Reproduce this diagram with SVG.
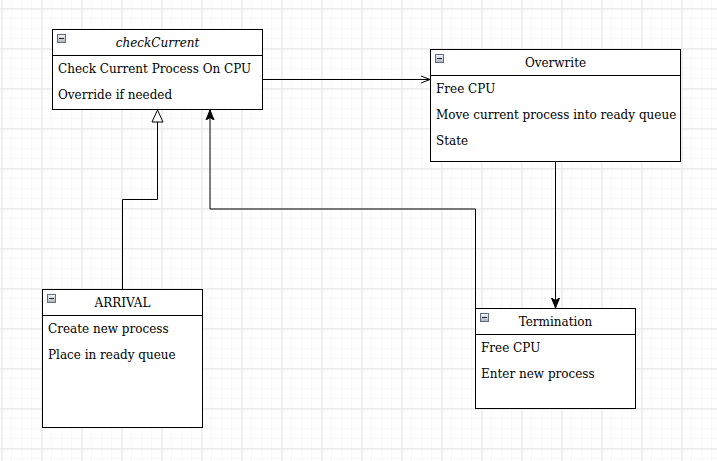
<svg xmlns="http://www.w3.org/2000/svg" width="717" height="461" viewBox="0 0 717 461">
<defs>
<pattern id="minor" x="2" y="9" width="10" height="10" patternUnits="userSpaceOnUse">
<path d="M10 0V10M0 10H10" fill="none" stroke="#f0f0f0" stroke-width="1"/>
</pattern>
<pattern id="major" x="1.5" y="8.5" width="40" height="40" patternUnits="userSpaceOnUse">
<path d="M0.5 0V40M0 0.5H40" fill="none" stroke="#e2e2e2" stroke-width="1"/>
</pattern>
<marker id="open" viewBox="0 0 10 10" refX="10" refY="5" markerWidth="10" markerHeight="10" markerUnits="userSpaceOnUse" orient="auto">
<path d="M1 1.5L10 5L1 8.5" fill="none" stroke="#000" stroke-width="1"/>
</marker>
<marker id="filled" viewBox="0 0 10 10" refX="10" refY="5" markerWidth="10" markerHeight="10" markerUnits="userSpaceOnUse" orient="auto">
<path d="M0 1L10 5L0 9L2.5 5Z" fill="#000" stroke="#000" stroke-width="1"/>
</marker>
<marker id="tri" viewBox="0 0 14 14" refX="13" refY="7" markerWidth="14" markerHeight="14" markerUnits="userSpaceOnUse" orient="auto">
<path d="M1 1.5L13 7L1 12.5Z" fill="#fff" stroke="#000" stroke-width="1"/>
</marker>
<linearGradient id="ig" x1="0" y1="0" x2="0" y2="1">
<stop offset="0" stop-color="#f4f6f8"/>
<stop offset="1" stop-color="#a9b4bf"/>
</linearGradient>
</defs>
<style>
.box{fill:#fff;stroke:#000;stroke-width:1}
.t{font-family:"DejaVu Serif",serif;font-size:12px;fill:#000}
.h{text-anchor:middle}
.i{font-style:italic}
.edge{fill:none;stroke:#000;stroke-width:1}
.ic{fill:url(#ig);stroke:#5f6f80;stroke-width:1}
.icm{stroke:#222;stroke-width:1}
</style>
<rect width="717" height="461" fill="#fff"/>
<rect width="717" height="461" fill="url(#minor)"/>
<rect width="717" height="461" fill="url(#major)"/>

<g id="checkCurrent">
<rect class="box" x="52.5" y="29.5" width="210" height="80"/>
<line class="edge" x1="52.5" y1="55.5" x2="262.5" y2="55.5"/>
<rect class="ic" x="57.5" y="34.5" width="8" height="8"/>
<line class="icm" x1="59" y1="38.5" x2="64" y2="38.5"/>
<text class="t h i" x="157.5" y="47">checkCurrent</text>
<text class="t" x="58" y="73">Check Current Process On CPU</text>
<text class="t" x="58" y="99">Override if needed</text>
</g>

<g id="Overwrite">
<rect class="box" x="430.5" y="49.5" width="250" height="112"/>
<line class="edge" x1="430.5" y1="75.5" x2="680.5" y2="75.5"/>
<rect class="ic" x="435.5" y="54.5" width="8" height="8"/>
<line class="icm" x1="437" y1="58.5" x2="442" y2="58.5"/>
<text class="t h" x="555.5" y="67">Overwrite</text>
<text class="t" x="436" y="93">Free CPU</text>
<text class="t" x="436" y="119">Move current process into ready queue</text>
<text class="t" x="436" y="145">State</text>
</g>

<g id="ARRIVAL">
<rect class="box" x="42.5" y="289.5" width="160" height="138"/>
<line class="edge" x1="42.5" y1="315.5" x2="202.5" y2="315.5"/>
<rect class="ic" x="47.5" y="294.5" width="8" height="8"/>
<line class="icm" x1="49" y1="298.5" x2="54" y2="298.5"/>
<text class="t h" x="122.5" y="307">ARRIVAL</text>
<text class="t" x="48" y="333">Create new process</text>
<text class="t" x="48" y="359">Place in ready queue</text>
</g>

<g id="Termination">
<rect class="box" x="475.5" y="308.5" width="160" height="100"/>
<line class="edge" x1="475.5" y1="334.5" x2="635.5" y2="334.5"/>
<rect class="ic" x="480.5" y="313.5" width="8" height="8"/>
<line class="icm" x1="482" y1="317.5" x2="487" y2="317.5"/>
<text class="t h" x="555.5" y="326">Termination</text>
<text class="t" x="481" y="352">Free CPU</text>
<text class="t" x="481" y="378">Enter new process</text>
</g>

<g id="connectors">
<path class="edge" d="M262.5 79.5H430" marker-end="url(#open)"/>
<path class="edge" d="M122.5 289.5V199.5H157.5V110" marker-end="url(#tri)"/>
<path class="edge" d="M475.5 308.5V209H210V110" marker-end="url(#filled)"/>
<path class="edge" d="M555.5 161.5V308" marker-end="url(#filled)"/>
</g>
</svg>
